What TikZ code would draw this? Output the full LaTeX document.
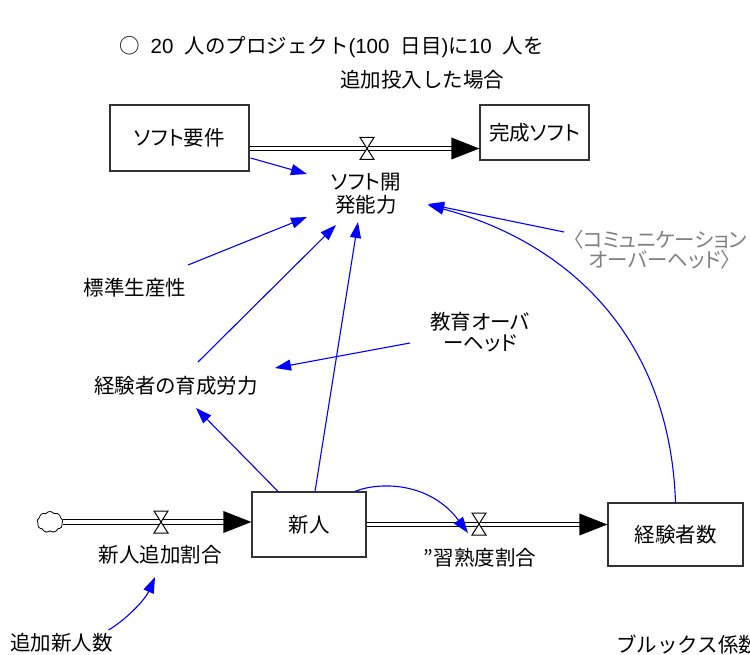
\documentclass[tikz,border=0pt]{standalone}
\usepackage{fontspec}
\setmainfont{Noto Sans CJK JP}[RawFeature={+palt}]
\newfontfamily\fullw{Noto Sans CJK JP}
\newfontfamily\latw{Liberation Sans}
\usetikzlibrary{arrows.meta,shapes.symbols,calc}
\newcommand\lblfont{\fontsize{20.5}{23}\selectfont}
\newcommand\tsp{\hspace{11pt}}
\newcommand\mkvalve[1]{\draw[fill=white, line width=1pt, line join=miter]
  ([shift={(-7,-11)}]#1) -- ([shift={(7,-11)}]#1) -- ([shift={(-7,11)}]#1) -- ([shift={(7,11)}]#1) -- cycle;}
\newcommand\mkhead[1]{\fill[black] (#1) -- ([shift={(-28,-11)}]#1) -- ([shift={(-28,11)}]#1) -- cycle;}
\tikzset{
  stockbox/.style={draw=black!80, line width=1.2pt, fill=white, font=\lblfont, inner sep=0pt},
  auxtext/.style={font=\lblfont, align=center, inner sep=1pt},
  link/.style={draw=blue, line width=1.1pt, -{Triangle[length=16pt,width=11pt]}},
  pipe/.style={draw=black, line width=1.2pt, double=white, double distance=3.4pt},
}
\begin{document}
\begin{tikzpicture}[x=1pt,y=-1pt]
\useasboundingbox[fill=white] (0,0) rectangle (750,655);

% title
\node[font=\lblfont\fullw, anchor=west, inner sep=0pt] (title1) at (119,47)
  {○\tsp{\latw 20}\tsp 人のプロジェクト{\latw (100}\tsp 日目{\latw )}に{\latw 10}\tsp 人を};
\node[font=\lblfont\fullw, inner sep=0pt] (title2) at (422,80) {追加投入した場合};

% stocks
\node[stockbox, minimum width=139pt, minimum height=66pt] (req) at (179.5,138) {ソフト要件};
\node[stockbox, minimum width=109pt, minimum height=55pt] (done) at (534.5,132.5) {完成ソフト};
\node[stockbox, minimum width=114pt, minimum height=65pt] (shinjin) at (309,524.5) {新人};
\node[stockbox, minimum width=135pt, minimum height=63pt] (keiken) at (675.5,534.5) {経験者数};
\node[cloud, draw, cloud puffs=9, cloud puff arc=110, minimum width=26pt, minimum height=21pt, inner sep=0pt, line width=0.8pt] (src) at (50,522) {};

% auxiliaries
\node[auxtext] (dev) at (366,194) {ソフト開\\発能力};
\node[auxtext] (std) at (135,288) {標準生産性};
\node[auxtext] (train) at (176,386) {経験者の育成労力};
\node[auxtext, font=\fontsize{20.5}{21}\selectfont] (edu) at (480,332) {教育オーバ\\ーヘッド};
\node[auxtext, text=black!50, font=\fontsize{20.5}{20}\selectfont] (comm) at (660,250) {〈コミュニケーション\\オーバーヘッド〉};
\node[auxtext] (rate1) at (160,555) {新人追加割合};
\node[auxtext] (rate2) at (480,558) {”習熟度割合};
\node[auxtext] (add) at (61.5,643) {追加新人数};
\node[auxtext, anchor=west, font=\lblfont\fullw] (brooks) at (615,645) {ブルックス係数};

% flow 1: requirements -> done
\coordinate (p1s) at ([shift={(0,10.5)}]req.east);
\coordinate (p1e) at (done.west |- p1s);
\coordinate (v1) at (367,148.5);
\draw[pipe] (p1s) -- ([shift={(-27,0)}]p1e);
\mkvalve{v1}
\mkhead{p1e}

% flow 2: cloud -> shinjin
\coordinate (p2e) at (shinjin.west |- src.east);
\coordinate (v2a) at (161,522);
\draw[pipe] (src.east) -- ([shift={(-27,0)}]p2e);
\mkvalve{v2a}
\mkhead{p2e}

% flow 3: shinjin -> keiken
\coordinate (p3e) at (keiken.west |- shinjin.east);
\coordinate (v2) at (479,524);
\draw[pipe] (shinjin.east) -- ([shift={(-27,0)}]p3e);
\mkvalve{v2}
\mkhead{p3e}

% links
\draw[link] ([shift={(1,20)}]req.east) -- ([shift={(-59,-20)}]dev.center);
\draw[link] ([shift={(53,-23)}]std.center) -- ([shift={(-59,23)}]dev.center);
\draw[link] ([shift={(22,-24)}]train.center) -- ([shift={(-30,31)}]dev.center);
\draw[link] ([shift={(6,0)}]shinjin.north) -- ([shift={(-8,28)}]dev.center);
\draw[link] ([shift={(-31,0)}]shinjin.north) -- ([shift={(20,22)}]train.center);
\draw[link] ([shift={(-70,11)}]edu.center) -- ([shift={(99,-18)}]train.center);
\draw[link] ([shift={(46,0)}]shinjin.north) .. controls +(25,-10) and +(-38,-51) .. ([shift={(-11,9)}]v2);
\draw[link] (keiken.north) .. controls +(-6,-173) and +(132,35) .. ([shift={(62,11)}]dev.center);
\draw[link] ([shift={(-96,-18)}]comm.center) -- ([shift={(62,10)}]dev.center);
\draw[link] ([shift={(47,-13)}]add.center) .. controls +(17,-10) and +(-10,23) .. ([shift={(-5,22)}]rate1.center);
\end{tikzpicture}
\end{document}
